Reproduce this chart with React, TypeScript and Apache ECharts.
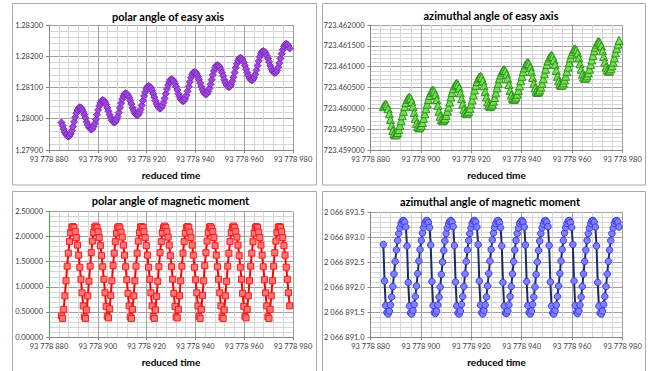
import React, { useEffect, useRef } from "react";
import * as echarts from "echarts";

// Sampling of the reduced time axis
const timeStart = 93778885.1;
const timeStep = 0.47;

const timeMin = 93778880;
const timeMax = 93778980;
const timeInterval = 20;

const polarEasyAxis = [
  1.27988, 1.27978, 1.27967, 1.27957, 1.27950, 1.27945,
  1.27943, 1.27945, 1.27952, 1.27962, 1.27975, 1.27990, 1.28005, 1.28018, 1.28028, 1.28035, 1.28037, 1.28035, 1.28030, 1.28022, 1.28013, 1.28002, 1.27990, 1.27981, 1.27973, 1.27968,
  1.27966, 1.27968, 1.27975, 1.27985, 1.27998, 1.28013, 1.28028, 1.28041, 1.28051, 1.28058, 1.28060, 1.28058, 1.28053, 1.28045, 1.28035, 1.28024, 1.28013, 1.28003, 1.27995, 1.27990,
  1.27988, 1.27990, 1.27997, 1.28007, 1.28020, 1.28035, 1.28050, 1.28063, 1.28073, 1.28080, 1.28082, 1.28080, 1.28075, 1.28067, 1.28058, 1.28047, 1.28035, 1.28026, 1.28018, 1.28013,
  1.28011, 1.28013, 1.28020, 1.28030, 1.28043, 1.28058, 1.28073, 1.28086, 1.28096, 1.28103, 1.28105, 1.28103, 1.28098, 1.28090, 1.28080, 1.28069, 1.28058, 1.28048, 1.28040, 1.28035,
  1.28033, 1.28035, 1.28042, 1.28052, 1.28065, 1.28080, 1.28095, 1.28108, 1.28118, 1.28125, 1.28127, 1.28125, 1.28120, 1.28112, 1.28103, 1.28092, 1.28080, 1.28071, 1.28063, 1.28058,
  1.28056, 1.28058, 1.28065, 1.28075, 1.28088, 1.28103, 1.28118, 1.28131, 1.28141, 1.28148, 1.28150, 1.28148, 1.28143, 1.28135, 1.28125, 1.28114, 1.28103, 1.28093, 1.28085, 1.28080,
  1.28078, 1.28080, 1.28087, 1.28097, 1.28110, 1.28125, 1.28140, 1.28153, 1.28163, 1.28170, 1.28172, 1.28170, 1.28165, 1.28157, 1.28148, 1.28137, 1.28125, 1.28116, 1.28108, 1.28103,
  1.28101, 1.28103, 1.28110, 1.28120, 1.28133, 1.28148, 1.28163, 1.28176, 1.28186, 1.28193, 1.28195, 1.28193, 1.28188, 1.28180, 1.28170, 1.28159, 1.28148, 1.28138, 1.28130, 1.28125,
  1.28123, 1.28125, 1.28132, 1.28142, 1.28155, 1.28170, 1.28185, 1.28198, 1.28208, 1.28215, 1.28217, 1.28215, 1.28210, 1.28202, 1.28193, 1.28182, 1.28170, 1.28161, 1.28153, 1.28148,
  1.28146, 1.28148, 1.28155, 1.28165, 1.28178, 1.28193, 1.28208, 1.28221, 1.28231, 1.28238, 1.28240, 1.28238, 1.28233, 1.28225,
];

const azimuthEasyAxis = [
  723.46004, 723.46008, 723.46010,
  723.46007, 723.45999, 723.45987, 723.45973, 723.45959, 723.45947, 723.45939, 723.45936,
  723.45938, 723.45942, 723.45949, 723.45959, 723.45970, 723.45982, 723.45993, 723.46004, 723.46014, 723.46021, 723.46025, 723.46027,
  723.46024, 723.46016, 723.46004, 723.45990, 723.45976, 723.45964, 723.45956, 723.45953,
  723.45955, 723.45959, 723.45966, 723.45976, 723.45987, 723.45999, 723.46010, 723.46021, 723.46031, 723.46038, 723.46042, 723.46044,
  723.46041, 723.46033, 723.46021, 723.46007, 723.45993, 723.45981, 723.45973, 723.45970,
  723.45972, 723.45976, 723.45983, 723.45993, 723.46003, 723.46015, 723.46027, 723.46038, 723.46047, 723.46054, 723.46058, 723.46060,
  723.46057, 723.46049, 723.46037, 723.46023, 723.46010, 723.45998, 723.45990, 723.45987,
  723.45989, 723.45993, 723.46000, 723.46010, 723.46020, 723.46032, 723.46044, 723.46055, 723.46064, 723.46071, 723.46075, 723.46077,
  723.46074, 723.46066, 723.46054, 723.46040, 723.46027, 723.46015, 723.46007, 723.46004,
  723.46006, 723.46010, 723.46017, 723.46026, 723.46037, 723.46049, 723.46060, 723.46071, 723.46080, 723.46087, 723.46091, 723.46093,
  723.46090, 723.46082, 723.46071, 723.46057, 723.46043, 723.46032, 723.46024, 723.46021,
  723.46023, 723.46027, 723.46034, 723.46043, 723.46054, 723.46066, 723.46077, 723.46088, 723.46097, 723.46104, 723.46108, 723.46110,
  723.46107, 723.46099, 723.46088, 723.46074, 723.46060, 723.46049, 723.46041, 723.46038,
  723.46040, 723.46044, 723.46051, 723.46060, 723.46071, 723.46083, 723.46094, 723.46105, 723.46114, 723.46121, 723.46125, 723.46127,
  723.46124, 723.46116, 723.46105, 723.46091, 723.46077, 723.46066, 723.46058, 723.46055,
  723.46056, 723.46061, 723.46068, 723.46077, 723.46088, 723.46099, 723.46110, 723.46121, 723.46130, 723.46137, 723.46142, 723.46143,
  723.46140, 723.46133, 723.46121, 723.46107, 723.46094, 723.46082, 723.46075, 723.46072,
  723.46073, 723.46078, 723.46085, 723.46094, 723.46105, 723.46116, 723.46127, 723.46138, 723.46147, 723.46154, 723.46159, 723.46160,
  723.46157, 723.46150, 723.46138, 723.46124, 723.46111, 723.46099, 723.46092, 723.46089,
  723.46090, 723.46095, 723.46102, 723.46111, 723.46121, 723.46133, 723.46144, 723.46154, 723.46163,
];

const polarMoment = [
  0.42, 0.37, 0.55, 0.82, 1.12, 1.41, 1.67, 1.90, 2.08, 2.18, 2.20, 2.18, 2.10, 1.98, 1.83, 1.63, 1.39, 1.15, 0.88, 0.62,
  0.40, 0.37, 0.54, 0.82, 1.11, 1.41, 1.68, 1.91, 2.08, 2.19, 2.21, 2.18, 2.10, 1.98, 1.82, 1.62, 1.40, 1.15, 0.88, 0.61,
  0.41, 0.38, 0.56, 0.83, 1.12, 1.42, 1.67, 1.90, 2.07, 2.18, 2.20, 2.17, 2.09, 1.99, 1.83, 1.63, 1.40, 1.14, 0.87, 0.62,
  0.40, 0.37, 0.55, 0.82, 1.12, 1.41, 1.67, 1.91, 2.08, 2.19, 2.20, 2.18, 2.10, 1.98, 1.82, 1.63, 1.39, 1.15, 0.88, 0.62,
  0.41, 0.37, 0.54, 0.81, 1.11, 1.40, 1.68, 1.90, 2.08, 2.18, 2.21, 2.18, 2.10, 1.99, 1.83, 1.62, 1.40, 1.15, 0.87, 0.61,
  0.40, 0.38, 0.55, 0.82, 1.12, 1.41, 1.67, 1.90, 2.07, 2.18, 2.20, 2.18, 2.09, 1.98, 1.83, 1.63, 1.39, 1.14, 0.88, 0.62,
  0.41, 0.37, 0.55, 0.83, 1.12, 1.42, 1.68, 1.91, 2.08, 2.19, 2.20, 2.17, 2.10, 1.98, 1.82, 1.63, 1.40, 1.15, 0.88, 0.62,
  0.40, 0.37, 0.54, 0.82, 1.11, 1.41, 1.67, 1.90, 2.08, 2.18, 2.21, 2.18, 2.10, 1.99, 1.83, 1.62, 1.39, 1.15, 0.87, 0.61,
  0.41, 0.38, 0.55, 0.82, 1.12, 1.41, 1.67, 1.90, 2.07, 2.18, 2.20, 2.18, 2.09, 1.98, 1.83, 1.63, 1.40, 1.14, 0.88, 0.62,
  0.40, 0.37, 0.55, 0.82, 1.12, 1.41, 1.68, 1.91, 2.08, 2.19, 2.20, 2.18, 2.10, 1.98, 1.82, 1.63, 1.39, 1.15, 0.88, 0.62,
];

const azimuthMoment = [
  2066892.85, 2066892.12, 2066891.63, 2066891.49, 2066891.46, 2066891.52, 2066891.64, 2066891.80, 2066892.01, 2066892.26,
  2066892.51, 2066892.74, 2066892.93, 2066893.07, 2066893.18, 2066893.27, 2066893.32, 2066893.33, 2066893.30, 2066893.20,
  2066892.82, 2066892.09, 2066891.62, 2066891.48, 2066891.46, 2066891.53, 2066891.65, 2066891.81, 2066892.02, 2066892.27,
  2066892.52, 2066892.75, 2066892.93, 2066893.08, 2066893.19, 2066893.27, 2066893.32, 2066893.33, 2066893.29, 2066893.19,
  2066892.84, 2066892.11, 2066891.63, 2066891.49, 2066891.47, 2066891.52, 2066891.64, 2066891.80, 2066892.00, 2066892.25,
  2066892.50, 2066892.73, 2066892.92, 2066893.07, 2066893.18, 2066893.26, 2066893.31, 2066893.33, 2066893.30, 2066893.21,
  2066892.83, 2066892.10, 2066891.62, 2066891.48, 2066891.46, 2066891.52, 2066891.65, 2066891.81, 2066892.01, 2066892.26,
  2066892.51, 2066892.74, 2066892.93, 2066893.07, 2066893.18, 2066893.27, 2066893.32, 2066893.33, 2066893.30, 2066893.20,
  2066892.85, 2066892.12, 2066891.64, 2066891.49, 2066891.46, 2066891.53, 2066891.64, 2066891.80, 2066892.02, 2066892.27,
  2066892.52, 2066892.75, 2066892.94, 2066893.08, 2066893.19, 2066893.27, 2066893.32, 2066893.33, 2066893.29, 2066893.19,
  2066892.82, 2066892.09, 2066891.62, 2066891.48, 2066891.47, 2066891.52, 2066891.64, 2066891.81, 2066892.01, 2066892.26,
  2066892.51, 2066892.74, 2066892.93, 2066893.07, 2066893.18, 2066893.27, 2066893.31, 2066893.33, 2066893.30, 2066893.20,
  2066892.84, 2066892.11, 2066891.63, 2066891.49, 2066891.46, 2066891.52, 2066891.65, 2066891.80, 2066892.00, 2066892.25,
  2066892.50, 2066892.73, 2066892.92, 2066893.07, 2066893.18, 2066893.26, 2066893.32, 2066893.33, 2066893.30, 2066893.21,
  2066892.83, 2066892.10, 2066891.62, 2066891.48, 2066891.46, 2066891.53, 2066891.64, 2066891.81, 2066892.02, 2066892.27,
  2066892.52, 2066892.75, 2066892.93, 2066893.08, 2066893.19, 2066893.27, 2066893.32, 2066893.33, 2066893.29, 2066893.19,
  2066892.85, 2066892.12, 2066891.63, 2066891.49, 2066891.47, 2066891.52, 2066891.64, 2066891.80, 2066892.01, 2066892.26,
  2066892.51, 2066892.74, 2066892.93, 2066893.07, 2066893.18, 2066893.27, 2066893.32, 2066893.33, 2066893.30, 2066893.20,
  2066892.82, 2066892.09, 2066891.62, 2066891.48, 2066891.46, 2066891.52, 2066891.65, 2066891.81, 2066892.01, 2066892.26,
  2066892.51, 2066892.74, 2066892.93, 2066893.07, 2066893.18, 2066893.27, 2066893.32, 2066893.33, 2066893.30, 2066893.20,
];

const panelTitles = [
  "polar angle of easy axis",
  "azimuthal angle of easy axis",
  "polar angle of magnetic moment",
  "azimuthal angle of magnetic moment",
];
const xAxisTitle = "reduced time";

// y-axis ranges: [min, max, interval, decimals]
const yRanges: [number, number, number, number][] = [
  [1.279, 1.283, 0.001, 5],
  [723.459, 723.462, 0.0005, 6],
  [0, 2.5, 0.5, 5],
  [2066891.0, 2066893.5, 0.5, 1],
];

const seriesValues = [polarEasyAxis, azimuthEasyAxis, polarMoment, azimuthMoment];

const FONT = "Lato";

function grouped(v: number, decimals: number): string {
  const [ip, dp] = v.toFixed(decimals).split(".");
  const g = ip.replace(/\B(?=(\d{3})+(?!\d))/g, " ");
  return dp !== undefined ? `${g}.${dp}` : g;
}

// Layout of each panel: frame box, plot area, title centre
const layout = [
  { frame: [12.5, 3.5, 304, 181.5], grid: [49, 25, 244, 125], title: [168, 16] },
  { frame: [322.5, 3.5, 323, 181.5], grid: [370.5, 25, 252, 125], title: [491, 15.5] },
  { frame: [12.5, 191.5, 304, 200], grid: [49, 211.5, 244, 125.5], title: [170.5, 200.5] },
  { frame: [322.5, 191.5, 323, 200], grid: [370.5, 212, 252, 125], title: [490, 201.5] },
];

const looks = [
  { symbol: "diamond", size: 7, fill: "#a446e6", border: "#7a2cb5", line: "#9a3edc", lineWidth: 1.5, yAxisLine: "#868686" },
  { symbol: "triangle", size: 8, fill: "#74e24f", border: "#2f8f1f", line: "#3c9e26", lineWidth: 1.5, yAxisLine: "#868686" },
  { symbol: "rect", size: 6, fill: "#ff7676", border: "#ff1a1a", line: "#ff0000", lineWidth: 2, yAxisLine: "#4aa84a" },
  { symbol: "circle", size: 6.5, fill: "#7f7fff", border: "#3b3bf2", line: "#1c2b5e", lineWidth: 2, yAxisLine: "#868686" },
];

function buildOption() {
  const grid = layout.map((l) => ({
    left: l.grid[0],
    top: l.grid[1],
    width: l.grid[2],
    height: l.grid[3],
    containLabel: false,
  }));

  const xAxis = layout.map((_, i) => ({
    type: "value",
    gridIndex: i,
    min: timeMin,
    max: timeMax,
    interval: timeInterval,
    name: xAxisTitle,
    nameLocation: "middle",
    nameGap: 25,
    nameTextStyle: {
      fontFamily: FONT,
      fontWeight: "bold",
      fontSize: 10,
      color: "#000",
      verticalAlign: "middle",
    },
    axisLine: { show: true, onZero: false, lineStyle: { color: "#868686", width: 1 } },
    axisTick: { show: true, length: 3, lineStyle: { color: "#868686" } },
    minorTick: { show: false, splitNumber: 5 },
    axisLabel: {
      fontFamily: FONT,
      fontSize: 7.5,
      color: "#404040",
      margin: 5,
      formatter: (v: number) => grouped(v, 0),
    },
    splitLine: { show: true, lineStyle: { color: "#a0a0a0", width: 1 } },
    minorSplitLine: { show: true, lineStyle: { color: "#d6d6d6", width: 1 } },
  }));

  const yAxis = layout.map((_, i) => {
    const [min, max, interval, decimals] = yRanges[i];
    return {
      type: "value",
      gridIndex: i,
      min,
      max,
      interval,
      axisLine: { show: true, lineStyle: { color: looks[i].yAxisLine, width: 1 } },
      axisTick: { show: true, length: 3, lineStyle: { color: "#868686" } },
      minorTick: { show: false, splitNumber: 5 },
      axisLabel: {
        fontFamily: FONT,
        fontSize: 7.5,
        color: "#404040",
        margin: 6,
        formatter: (v: number) => grouped(v, decimals),
      },
      splitLine: { show: true, lineStyle: { color: "#a0a0a0", width: 1 } },
      minorSplitLine: { show: true, lineStyle: { color: "#d6d6d6", width: 1 } },
    };
  });

  const series = seriesValues.map((values, i) => ({
    type: "line",
    xAxisIndex: i,
    yAxisIndex: i,
    data: values.map((v, k) => [timeStart + k * timeStep, v]),
    symbol: looks[i].symbol,
    symbolSize: looks[i].size,
    showSymbol: true,
    itemStyle: { color: looks[i].fill, borderColor: looks[i].border, borderWidth: 1 },
    lineStyle: { color: looks[i].line, width: looks[i].lineWidth },
    emphasis: { disabled: true },
  }));

  const frames = layout.map((l) => ({
    type: "rect",
    shape: { x: l.frame[0], y: l.frame[1], width: l.frame[2], height: l.frame[3] },
    style: { fill: "none", stroke: "#a9a9a9", lineWidth: 1 },
    z: -10,
    silent: true,
  }));

  const titles = layout.map((l, i) => ({
    type: "text",
    x: l.title[0],
    y: l.title[1],
    style: {
      text: panelTitles[i],
      font: `bold 11px ${FONT}`,
      fill: "#000",
      align: "center",
      verticalAlign: "middle",
      textAlign: "center",
      textVerticalAlign: "middle",
    },
    silent: true,
  }));

  return {
    animation: false,
    backgroundColor: "#ffffff",
    textStyle: { fontFamily: FONT },
    grid,
    xAxis,
    yAxis,
    series,
    graphic: [...frames, ...titles],
  };
}

export default function App() {
  const ref = useRef<HTMLDivElement>(null);
  useEffect(() => {
    if (!ref.current) return;
    const chart = echarts.init(ref.current, undefined, { renderer: "svg" });
    chart.setOption(buildOption() as any);
    return () => chart.dispose();
  }, []);
  return (
    <div
      ref={ref}
      style={{ position: "fixed", left: 0, top: 0, width: 649, height: 371, background: "#fff" }}
    />
  );
}
